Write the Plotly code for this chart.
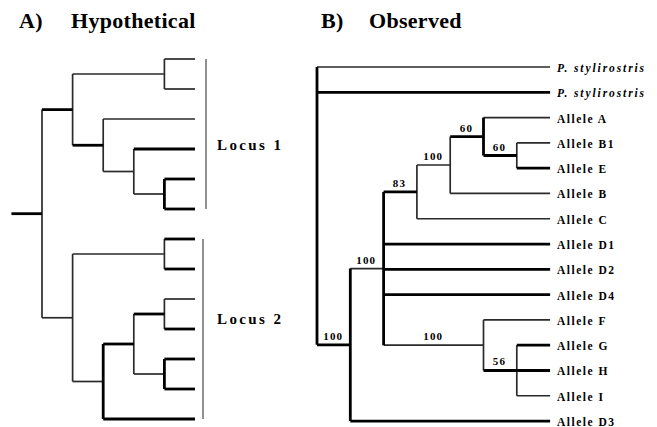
import json
import plotly.graph_objects as go

# ---------------- DATA ----------------
# Panel A: hypothetical gene tree (unlabelled tips, top to bottom)
A_tip_count = 13
A_tip_parent = ["U1", "U1", "U2", "U3", "U4", "U4", "D1", "D1", "D4", "D4", "D5", "D5", "D2"]
A_nodes = ["R", "U", "U1", "U2", "U3", "U4", "D", "D1", "D2", "D3", "D4", "D5"]
A_parents = [None, "R", "U", "U", "U2", "U3", "R", "D", "D", "D2", "D3", "D3"]
A_depths = [0, 1, 4, 2, 3, 4, 1, 4, 2, 3, 4, 4]
A_tip_depth = 5
A_root_stem = -1
A_locus_labels = ["Locus 1", "Locus 2"]
A_locus_tips = [(0, 5), (6, 12)]

# Panel B: observed tree
B_tips = ["P. stylirostris", "P. stylirostris", "Allele A", "Allele B1", "Allele E",
          "Allele B", "Allele C", "Allele D1", "Allele D2", "Allele D4", "Allele F",
          "Allele G", "Allele H", "Allele I", "Allele D3"]
B_tip_italic = [True, True] + [False] * 13
B_tip_parent = ["R", "R", "N5", "N6", "N6", "N4", "N3", "N2", "N2", "N2", "N7",
                "N8", "N8", "N8", "N1"]
B_nodes = ["R", "N1", "N2", "N3", "N4", "N5", "N6", "N7", "N8"]
B_parents = [None, "R", "N1", "N2", "N3", "N4", "N5", "N2", "N7"]
B_depths = [0, 1, 2, 3, 4, 5, 6, 5, 6]
B_support = [None, 100, 100, 83, 100, 60, 60, 100, 56]
B_tip_depth = 7

# ---------------- STYLE ----------------
W, H = 657, 427
A_x0px, A_xstep = 42, 30.6
A_y0px, A_ystep = 59, 30.0
B_x0px, B_xstep = 317, 33.3
B_y0px, B_ystep = 67, 25.29

A_thick = {"R", "U", "U2", "t3", "t4", "t5", "t6", "t7", "t9", "t10", "t11", "t12", "D3", "D4"}
A_thick_vert = {"U4", "D2", "D5"}
B_thick = {"t1", "t4", "t7", "t8", "t9", "t11", "t12", "t14", "N1", "N3", "N5", "N6", "N8"}
B_thick_vert = {"R", "N1", "N2", "N5"}

THICK = dict(color="#000000", width=2.8)
THIN = dict(color="#2a2a2a", width=1.7)
SERIF = "Liberation Serif, Times New Roman, serif"


def layout_tree(nodes, parents, depths, tip_parent, tip_depth):
    depth = dict(zip(nodes, depths))
    parent = dict(zip(nodes, parents))
    children = {n: [] for n in nodes}
    ypos = {}
    for i, p in enumerate(tip_parent):
        key = f"t{i}"
        children[p].append(key)
        parent[key] = p
        depth[key] = tip_depth
        ypos[key] = i
    for n, p in zip(nodes, parents):
        if p is not None:
            children[p].append(n)

    def gety(n):
        if n not in ypos:
            ys = [gety(c) for c in children[n]]
            ypos[n] = (min(ys) + max(ys)) / 2
        return ypos[n]

    for n in nodes:
        gety(n)
    return depth, parent, children, ypos


def segments(depth, parent, children, ypos, thick, thick_vert):
    segs = {"thick": ([], []), "thin": ([], [])}
    for n, p in parent.items():
        if p is None:
            continue
        k = "thick" if n in thick else "thin"
        segs[k][0].extend([depth[p], depth[n], None])
        segs[k][1].extend([ypos[n], ypos[n], None])
    for n, ch in children.items():
        if not ch:
            continue
        ys = [ypos[c] for c in ch]
        k = "thick" if n in thick_vert else "thin"
        segs[k][0].extend([depth[n], depth[n], None])
        segs[k][1].extend([min(ys), max(ys), None])
    return segs


fig = go.Figure()
annotations = []
spacing = []

# ----- Panel A -----
dA, pA, cA, yA = layout_tree(A_nodes, A_parents, A_depths, A_tip_parent, A_tip_depth)
sA = segments(dA, pA, cA, yA, A_thick, A_thick_vert)
# root stem
k = "thick" if "R" in A_thick else "thin"
sA[k][0].extend([A_root_stem, dA["R"], None])
sA[k][1].extend([yA["R"], yA["R"], None])
for k, st in (("thin", THIN), ("thick", THICK)):
    fig.add_trace(go.Scatter(x=sA[k][0], y=sA[k][1], mode="lines", line=st,
                             xaxis="x", yaxis="y", hoverinfo="skip", showlegend=False))

locus_off = [11 / A_xstep, 8 / A_xstep]
locus_label_pos = [2.85, 8.65]
for lab, (t0, t1), off, ly in zip(A_locus_labels, A_locus_tips, locus_off, locus_label_pos):
    xl = A_tip_depth + off
    fig.add_shape(type="line", xref="x", yref="y", x0=xl, x1=xl, y0=t0, y1=t1,
                  line=dict(color="#222222", width=1))
    annotations.append(dict(x=A_tip_depth, y=ly, xref="x", yref="y", text=lab,
                            xanchor="left", yanchor="middle", align="left",
                            xshift=20, showarrow=False,
                            font=dict(family=SERIF, size=15, color="black", weight="bold")))
    spacing.append(2.4)

# ----- Panel B -----
dB, pB, cB, yB = layout_tree(B_nodes, B_parents, B_depths, B_tip_parent, B_tip_depth)
sB = segments(dB, pB, cB, yB, B_thick, B_thick_vert)
for k, st in (("thin", THIN), ("thick", THICK)):
    fig.add_trace(go.Scatter(x=sB[k][0], y=sB[k][1], mode="lines", line=st,
                             xaxis="x2", yaxis="y2", hoverinfo="skip", showlegend=False))

for i, (name, it) in enumerate(zip(B_tips, B_tip_italic)):
    annotations.append(dict(x=B_tip_depth, y=i, xref="x2", yref="y2",
                            text=f"<i>{name}</i>" if it else name,
                            xanchor="left", yanchor="middle", align="left",
                            xshift=5, yshift=-1, showarrow=False,
                            font=dict(family=SERIF, size=11.5, color="black", weight="bold")))
    spacing.append(1.9 if it else 1.5)

for n, p, s in zip(B_nodes, B_parents, B_support):
    if s is None:
        continue
    annotations.append(dict(x=(dB[n] + dB[p]) / 2, y=yB[n], xref="x2", yref="y2",
                            text=str(s), xanchor="center", yanchor="bottom",
                            yshift=1, showarrow=False,
                            font=dict(family=SERIF, size=11, color="black", weight="bold")))
    spacing.append(1.2)

# ----- Titles -----
for txt, xp in (("A)", 17), ("Hypothetical", 69), ("B)", 319), ("Observed", 367)):
    annotations.append(dict(x=xp / W, y=1 - 20 / H, xref="paper", yref="paper", text=txt,
                            xanchor="left", yanchor="middle", align="left", showarrow=False,
                            font=dict(family=SERIF, size=22, color="black", weight="bold")))
    spacing.append(0.3)

ax = dict(visible=False, showgrid=False, zeroline=False, fixedrange=True)
fig.update_layout(
    width=W, height=H, margin=dict(l=0, r=0, t=0, b=0),
    paper_bgcolor="white", plot_bgcolor="white", showlegend=False,
    xaxis=dict(ax, domain=[0, 1], range=[-A_x0px / A_xstep, (W - A_x0px) / A_xstep]),
    yaxis=dict(ax, domain=[0, 1], range=[(H - A_y0px) / A_ystep, -A_y0px / A_ystep]),
    xaxis2=dict(ax, domain=[0, 1], overlaying="x", anchor="y2",
                range=[-B_x0px / B_xstep, (W - B_x0px) / B_xstep]),
    yaxis2=dict(ax, domain=[0, 1], overlaying="y", anchor="x2",
                range=[(H - B_y0px) / B_ystep, -B_y0px / B_ystep]),
    annotations=annotations,
)

post = ("document.documentElement.style.margin='0';document.body.style.margin='0';"
        "document.body.style.overflow='hidden';"
        "var gd=document.getElementById('{plot_id}');var sp=" + json.dumps(spacing) + ";"
        "function ls(){gd.querySelectorAll('g.annotation').forEach(function(g){"
        "var i=+g.getAttribute('data-index');var t=g.querySelector('text');"
        "if(t&&sp[i])t.style.letterSpacing=sp[i]+'px';});}"
        "ls();gd.on('plotly_afterplot',ls);")

fig.write_html("out.html", post_script=post, config={"displayModeBar": False, "staticPlot": True})
